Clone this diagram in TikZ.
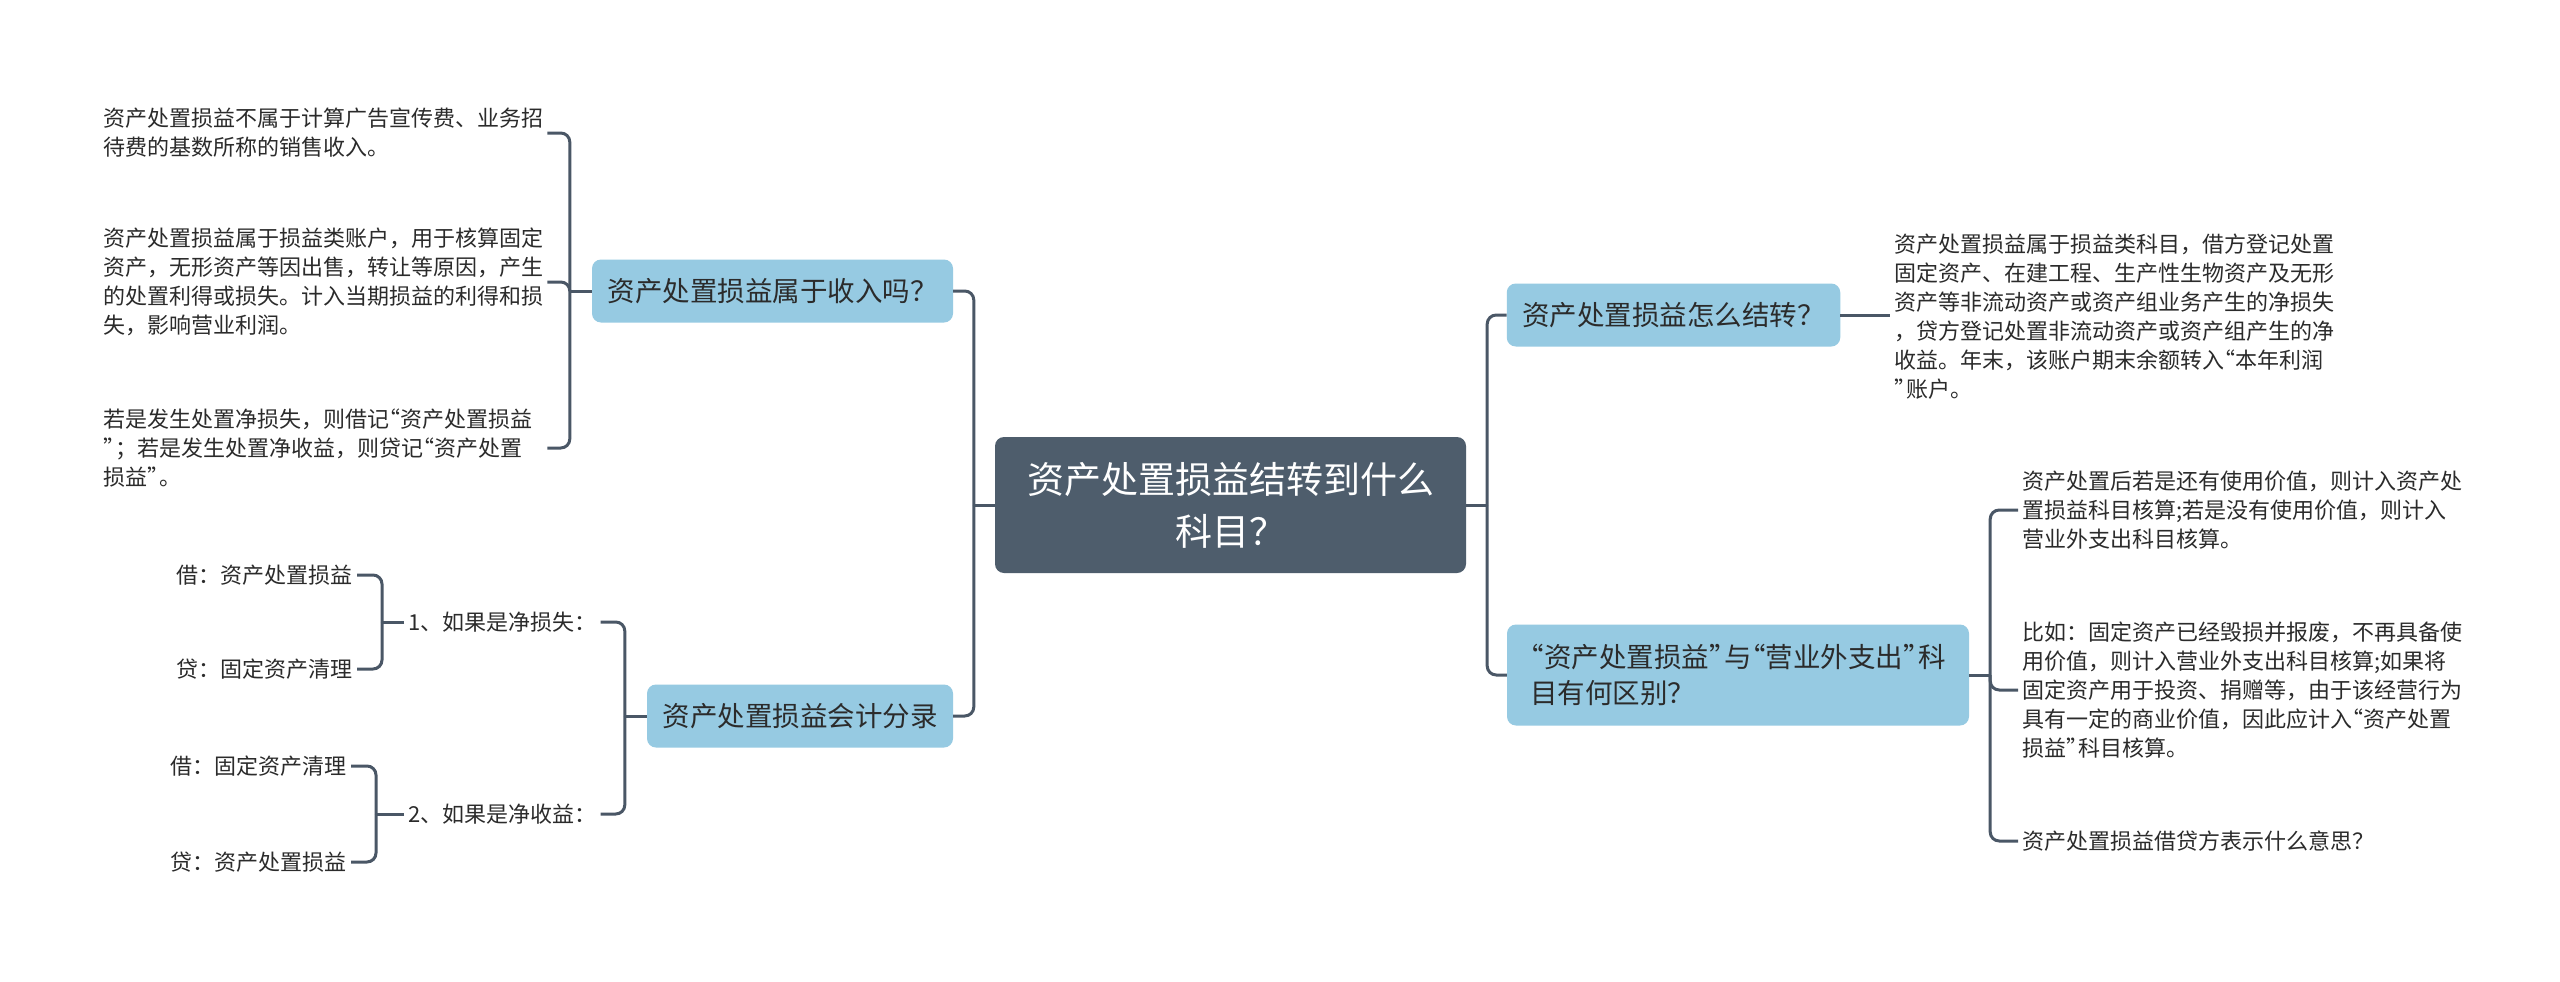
\documentclass[tikz,border=0pt]{standalone}
\usepackage{fontspec}
\setmainfont{Noto Sans CJK SC}
\definecolor{linec}{HTML}{4A5766}
\definecolor{darkc}{HTML}{4E5D6C}
\definecolor{bluec}{HTML}{96CAE2}
\definecolor{textc}{HTML}{2B2B2B}
\newcommand\myoq{\makebox[0.5em][r]{“}}
\newcommand\mycq{\makebox[0.55em][l]{”}}
\tikzset{
  conn/.style={draw=linec, line width=3pt, rounded corners=9pt},
  topic/.style={fill=bluec, text=textc, rounded corners=9pt, font=\fontsize{27.5}{36}\selectfont, inner xsep=15.5pt, inner ysep=0pt, minimum height=63pt},
  centralbox/.style={fill=darkc, text=white, rounded corners=9pt, font=\fontsize{37}{52}\selectfont, align=center, minimum width=471pt, minimum height=136pt},
  leaf/.style={text=textc, font=\fontsize{22}{29}\selectfont, align=left, inner xsep=4pt, inner ysep=2pt},
  leafw/.style={leaf, text width=440pt}
}
\begin{document}
\begin{tikzpicture}[x=1pt, y=-1pt]
\fill[white] (0,0) rectangle (2560,982);
\useasboundingbox (0,0) rectangle (2560,982);

% central and main topics
\node[centralbox] (C) at (1230.5,505) {资产处置损益结转到什么\\科目？};
\node[topic] (L1) at (772.5,291) {资产处置损益属于收入吗？};
\node[topic] (L2) at (800,716) {资产处置损益会计分录};
\node[topic] (R1) at (1673.5,315) {资产处置损益怎么结转？};
\node[topic, align=left, minimum width=462pt, minimum height=101pt] (R2) at (1738,675) {\myoq 资产处置损益\mycq 与\myoq 营业外支出\mycq 科\\目有何区别？};

% left leaves of L1
\node[leafw, anchor=west] (A1) at (99,133) {资产处置损益不属于计算广告宣传费、业务招\\待费的基数所称的销售收入。};
\node[leafw, anchor=west] (A2) at (99,282) {资产处置损益属于损益类账户，用于核算固定\\资产，无形资产等因出售，转让等原因，产生\\的处置利得或损失。计入当期损益的利得和损\\失，影响营业利润。};
\node[leafw, anchor=west] (A3) at (99,448) {若是发生处置净损失，则借记\myoq 资产处置损益\\\mycq ；若是发生处置净收益，则贷记\myoq 资产处置\\损益\mycq 。};

% L2 structure
\node[leaf, anchor=west] (N1) at (404,622) {1、如果是净损失：};
\node[leaf, anchor=west] (N2) at (404,814) {2、如果是净收益：};
\node[leaf, anchor=east] (S1) at (357,575) {借：资产处置损益};
\node[leaf, anchor=east] (S2) at (357,669) {贷：固定资产清理};
\node[leaf, anchor=east] (S3) at (351,766) {借：固定资产清理};
\node[leaf, anchor=east] (S4) at (351,862) {贷：资产处置损益};

% right leaves
\node[leafw, anchor=west] (B1) at (1890,317) {资产处置损益属于损益类科目，借方登记处置\\固定资产、在建工程、生产性生物资产及无形\\资产等非流动资产或资产组业务产生的净损失\\，贷方登记处置非流动资产或资产组产生的净\\收益。年末，该账户期末余额转入\myoq 本年利润\\\mycq 账户。};
\node[leafw, anchor=west] (C1) at (2018,510) {资产处置后若是还有使用价值，则计入资产处\\置损益科目核算;若是没有使用价值，则计入\\营业外支出科目核算。};
\node[leafw, anchor=west] (C2) at (2018,690) {比如：固定资产已经毁损并报废，不再具备使\\用价值，则计入营业外支出科目核算;如果将\\固定资产用于投资、捐赠等，由于该经营行为\\具有一定的商业价值，因此应计入\myoq 资产处置\\损益\mycq 科目核算。};
\node[leafw, anchor=west] (C3) at (2018,841) {资产处置损益借贷方表示什么意思？};

% connectors: central
\draw[conn] (C.west) -- ++(-21,0) coordinate (jC);
\draw[conn] (jC) |- (L1.east);
\draw[conn] (jC) |- (L2.east);
\draw[conn] (C.east) -- ++(21,0) coordinate (jR);
\draw[conn] (jR) |- (R1.west);
\draw[conn] (jR) |- (R2.west);

% L1 bracket
\draw[conn] (L1.west) -- ++(-22,0) coordinate (jL1);
\draw[conn] (jL1) |- (A1.east);
\draw[conn] (jL1) |- (A2.east);
\draw[conn] (jL1) |- (A3.east);

% L2 bracket
\draw[conn] (L2.west) -- ++(-22,0) coordinate (jL2);
\draw[conn] (jL2) |- (N1.east);
\draw[conn] (jL2) |- (N2.east);
\draw[conn] (N1.west) -- ++(-22,0) coordinate (jN1);
\draw[conn] (jN1) |- (S1.east);
\draw[conn] (jN1) |- (S2.east);
\draw[conn] (N2.west) -- ++(-28,0) coordinate (jN2);
\draw[conn] (jN2) |- (S3.east);
\draw[conn] (jN2) |- (S4.east);

% R1 and R2
\draw[conn] (R1.east) -- (B1.west |- R1.east);
\draw[conn] (R2.east) -- ++(21,0) coordinate (jR2);
\draw[conn] (jR2) |- (C1.west);
\draw[conn] (jR2) |- (C2.west);
\draw[conn] (jR2) |- (C3.west);
\end{tikzpicture}
\end{document}
